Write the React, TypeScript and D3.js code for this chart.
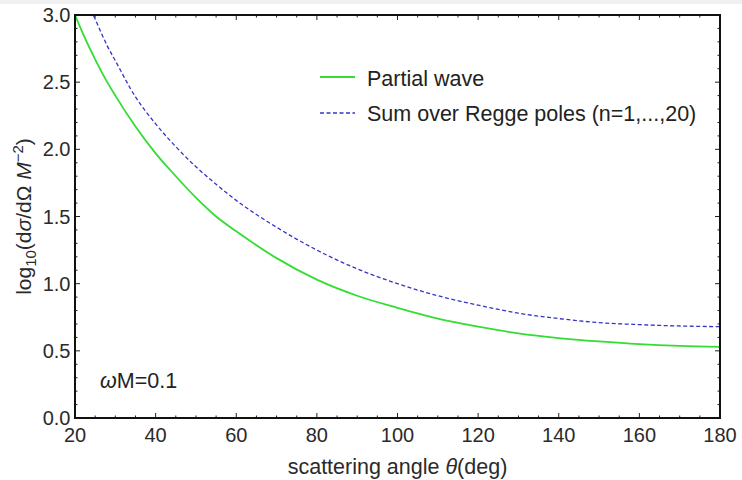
import React from "react";
import * as d3 from "d3";

const W = 742;
const H = 480;

// Data
const partialAngles = [20, 22, 25, 28, 30, 35, 40, 45, 50, 55, 60, 70, 80, 90, 100, 110, 120, 130, 140, 150, 160, 170, 180];
const partialWave = [3.0, 2.86, 2.67, 2.5, 2.4, 2.17, 1.97, 1.8, 1.64, 1.5, 1.39, 1.19, 1.03, 0.91, 0.82, 0.74, 0.68, 0.63, 0.595, 0.57, 0.55, 0.537, 0.53];

const reggeAngles = [22, 25, 28, 30, 35, 40, 45, 50, 55, 60, 70, 80, 90, 100, 110, 120, 130, 140, 150, 160, 170, 180];
const reggeSum = [3.17, 2.97, 2.77, 2.66, 2.39, 2.19, 2.02, 1.87, 1.74, 1.62, 1.42, 1.25, 1.11, 1.0, 0.91, 0.84, 0.78, 0.74, 0.71, 0.695, 0.685, 0.68];

const xTicks = [20, 40, 60, 80, 100, 120, 140, 160, 180];
const yTicks = [0.0, 0.5, 1.0, 1.5, 2.0, 2.5, 3.0];

const legendLabels = ["Partial wave", "Sum over Regge poles (n=1,...,20)"];

const FONT = "'Liberation Sans', Arial, Helvetica, sans-serif";

export default function App() {
  const left = 75, right = 720, top = 15, bottom = 418;
  const x = d3.scaleLinear().domain([20, 180]).range([left, right]);
  const y = d3.scaleLinear().domain([0, 3]).range([bottom, top]);

  const line = d3
    .line<[number, number]>()
    .x((d) => x(d[0]))
    .y((d) => y(d[1]))
    .curve(d3.curveMonotoneX);

  const greenPath = line(partialAngles.map((a, i) => [a, partialWave[i]] as [number, number])) || "";
  const bluePath = line(reggeAngles.map((a, i) => [a, reggeSum[i]] as [number, number])) || "";

  const xMinor = d3.range(20, 180.01, 5).filter((v) => v % 20 !== 0);
  const yMinor = d3.range(0, 3.001, 0.1).map((v) => Math.round(v * 10) / 10).filter((v) => Math.abs((v * 2) % 1) > 1e-6);

  const tickCol = "#222";
  const labelCol = "#2a2a2a";
  const textSize = 21.5;

  return (
    <svg width={W} height={H} style={{ position: "absolute", left: 0, top: 0, background: "#fff" }} fontFamily={FONT}>
      <rect x={0} y={0} width={W} height={4} fill="#f0f0f0" />
      <defs>
        <clipPath id="plotClip">
          <rect x={left} y={top} width={right - left} height={bottom - top} />
        </clipPath>
      </defs>

      {/* curves */}
      <g clipPath="url(#plotClip)">
        <path d={greenPath} fill="none" stroke="#33dd33" strokeWidth={1.8} />
        <path d={bluePath} fill="none" stroke="#3535c8" strokeWidth={1.3} strokeDasharray="4,2.5" />
      </g>

      {/* ticks */}
      <g stroke={tickCol} strokeWidth={1}>
        {xTicks.map((t) => (
          <g key={"xt" + t}>
            <line x1={x(t)} x2={x(t)} y1={bottom} y2={bottom - 5} />
            <line x1={x(t)} x2={x(t)} y1={top} y2={top + 5} />
          </g>
        ))}
        {xMinor.map((t) => (
          <g key={"xm" + t}>
            <line x1={x(t)} x2={x(t)} y1={bottom} y2={bottom - 2.5} />
            <line x1={x(t)} x2={x(t)} y1={top} y2={top + 2.5} />
          </g>
        ))}
        {yTicks.map((t) => (
          <g key={"yt" + t}>
            <line x1={left} x2={left + 5} y1={y(t)} y2={y(t)} />
            <line x1={right} x2={right - 5} y1={y(t)} y2={y(t)} />
          </g>
        ))}
        {yMinor.map((t) => (
          <g key={"ym" + t}>
            <line x1={left} x2={left + 2.5} y1={y(t)} y2={y(t)} />
            <line x1={right} x2={right - 2.5} y1={y(t)} y2={y(t)} />
          </g>
        ))}
      </g>

      {/* frame */}
      <rect x={left} y={top} width={right - left} height={bottom - top} fill="none" stroke="#111" strokeWidth={2} />

      {/* tick labels */}
      <g fill={labelCol} fontSize={20}>
        {xTicks.map((t) => (
          <text key={"xl" + t} x={x(t)} y={bottom + 24} textAnchor="middle">
            {d3.format("d")(t)}
          </text>
        ))}
        {yTicks.map((t) => (
          <text key={"yl" + t} x={left - 4.5} y={y(t) + 7} textAnchor="end">
            {d3.format(".1f")(t)}
          </text>
        ))}
      </g>

      {/* axis titles */}
      <text x={(left + right) / 2} y={474} textAnchor="middle" fontSize={textSize} fill={labelCol}>
        scattering angle <tspan fontStyle="italic">θ</tspan>(deg)
      </text>
      <text
        transform={`translate(31, ${(top + bottom) / 2}) rotate(-90)`}
        textAnchor="middle"
        fontSize={21}
        fill={labelCol}
      >
        log<tspan fontSize={15} dy={5}>10</tspan>
        <tspan dy={-5}>(d</tspan>
        <tspan fontStyle="italic">σ</tspan>/dΩ <tspan fontStyle="italic">M</tspan>
        <tspan fontSize={15} dy={-8}>−2</tspan>
        <tspan dy={8}>)</tspan>
      </text>

      {/* annotation */}
      <text x={100} y={387.5} fontSize={textSize} fill="#222">
        <tspan fontStyle="italic">ω</tspan>M=0.1
      </text>

      {/* legend */}
      <g>
        <line x1={320} x2={355} y1={77} y2={77} stroke="#33dd33" strokeWidth={1.8} />
        <text x={367} y={85.5} fontSize={textSize} fill="#222">{legendLabels[0]}</text>
        <line x1={320} x2={355} y1={113} y2={113} stroke="#3535c8" strokeWidth={1.3} strokeDasharray="4,2.5" />
        <text x={367} y={121} fontSize={textSize} fill="#222">{legendLabels[1]}</text>
      </g>
    </svg>
  );
}
